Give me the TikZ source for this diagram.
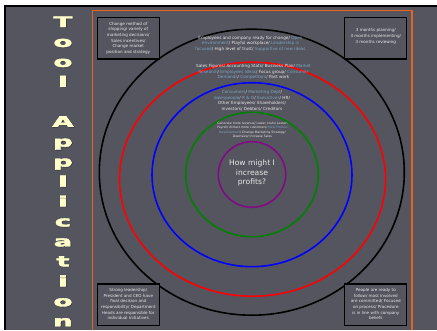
\documentclass[tikz,border=0pt]{standalone}
\usepackage{fontspec}
\setmainfont{DejaVu Sans}
\newfontfamily\heavyfont[FakeBold=2.5]{DejaVu Sans}
\definecolor{slate}{HTML}{55555F}
\definecolor{hl}{HTML}{7BA7C2}
\definecolor{frameorange}{HTML}{E8641E}
\definecolor{cream}{HTML}{FFFFCC}
\definecolor{note}{HTML}{E8E8E8}
\definecolor{ringpurple}{HTML}{820A82}
\newcommand{\hlt}[1]{\textcolor{hl}{#1}}
\newcommand{\titlechar}[1]{\scalebox{1.9}[1]{#1}}

\begin{document}
\begin{tikzpicture}[x=1pt,y=-1pt,
  ring/.style={line width=1.6pt},
  ringtext/.style={font=\fontsize{4.2}{5.5}\selectfont, text=note, align=center, inner sep=0pt},
  smalltext/.style={font=\fontsize{3.1}{4.3}\selectfont, text=note, align=center, inner sep=0pt},
  cornerbox/.style={draw=black, line width=1.3pt, fill=slate, minimum width=62pt, minimum height=41.7pt, inner sep=0pt},
  cornertext/.style={font=\fontsize{4.1}{5.7}\selectfont, text=note, align=center, inner sep=0pt},
  letter/.style={font=\fontsize{14.5}{15}\heavyfont\bfseries\selectfont, text=cream, anchor=base, inner sep=0pt},
  lettershadow/.style={letter, text=black!80}]

% page and slide background
\useasboundingbox (0,0) rectangle (437,330);
\fill[white] (0,0) rectangle (437,330);
\fill[slate] (5,6) rectangle (437,330);
\draw[black, line width=1.5pt] (5,330) -- (5,6) -- (437,6);

% orange content frame
\draw[frameorange, line width=1.3pt] (92.7,330) -- (92.7,10.7) -- (412,10.7) -- (412,330);

% vertical title
\foreach \ch [count=\i from 0] in {T,o,o,l,{},A,p,p,l,i,c,a,t,i,o,n} {
  \node[lettershadow] at (63.6,27.5+\i*19.95) {\titlechar{\ch}};
  \node[letter] (title\i) at (63,27+\i*19.95) {\titlechar{\ch}};
}

% concentric rings
\draw[ring, black]          (251.8,172.2) ellipse [x radius=152.5, y radius=143];
\draw[ring, red]            (252.5,179.2) ellipse [x radius=133, y radius=117];
\draw[ring, blue]           (252,174.7)   ellipse [x radius=100, y radius=92];
\draw[ring, green!50!black] (252,174.5)   ellipse [x radius=66.3, y radius=62.2];
\draw[ring, ringpurple]     (252,174.5)   ellipse [x radius=33.7, y radius=32.8];

% ring labels
\node[ringtext] (culture) at (250.5,43.7) {%
  Employees and company ready for change/ \hlt{Open}\\
  \hlt{environment}/ Playful workplace/ \hlt{Leadership is}\\
  \hlt{focused}/ High level of trust/ \hlt{Supportive of new ideas}};
\node[ringtext] (sources) at (253.5,72.1) {%
  Sales Figures/ Accounting Stats/ Business Plan/ \hlt{Market}\\
  \hlt{Research}/ \hlt{Employees Ideas}/ Focus group/ \hlt{Consumer}\\
  \hlt{Demands}/ \hlt{Competitors}/ Past work};
\node[ringtext] (people) at (252,100.5) {%
  \hlt{Consumers}/ \hlt{Marketing Dept}/\\
  \hlt{Salespeople}/ \hlt{R \& D}/ \hlt{Executives}/ HR/\\
  Other Employees/ Shareholders/\\
  Investors/ Debtors/ Creditors};
\node[smalltext] (ideas) at (252.5,130) {%
  Generate more revenue/ Lower costs/ Lessen\\
  Payroll/ Attract more customers/ \hlt{New Product}\\
  \hlt{Development}/ Change Marketing Strategy/\\
  Downsize/ Increase Sales};
\node[font=\fontsize{7.6}{9.7}\selectfont, text=note, align=center, inner sep=0pt]
  (question) at (252,173) {How might I\\increase\\profits?};

% corner notes
\node[cornerbox] (tlbox) at (128.3,38.2) {};
\node[cornertext] (tltext) at (tlbox.center) {Change method of\\shipping/ variety of\\marketing decisions/\\Sales incentives/\\Change market\\position and strategy};

\node[cornerbox] (trbox) at (375.8,38.2) {};
\node[cornertext] (trtext) at (375.8,36.3) {3 months planning/\\3 months implementing/\\3 months reviewing};

\node[cornerbox] (blbox) at (128.3,304.9) {};
\node[cornertext] (bltext) at (128.3,304.2) {Strong leadership/\\President and CEO have\\final decision and\\responsibility/ Department\\Heads are responsible for\\individual initiatives};

\node[cornerbox] (brbox) at (375.8,304.9) {};
\node[cornertext] (brtext) at (375.8,304.2) {People are ready to\\follow/ most involved\\are committed/ Focused\\on process/ Procedure\\is in line with company\\beliefs};
\end{tikzpicture}
\end{document}
